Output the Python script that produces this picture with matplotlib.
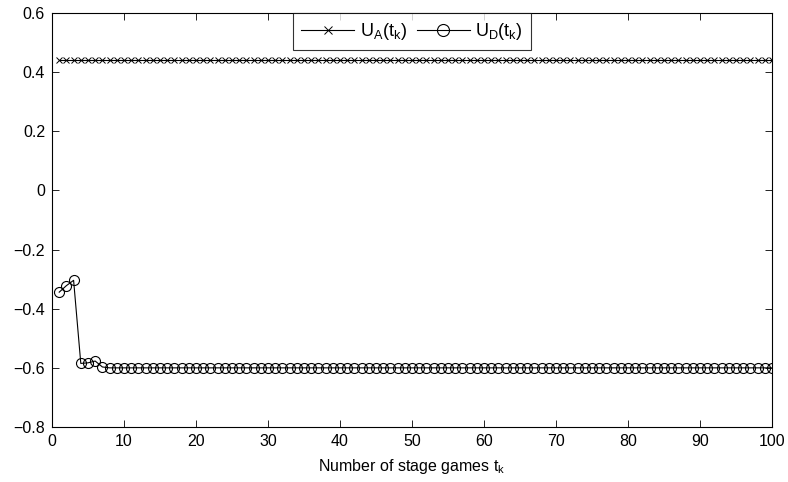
"""Stage-game utilities for attacker and defender."""

import matplotlib

matplotlib.use("Agg")

import matplotlib.pyplot as plt
import numpy as np

stages = np.arange(1, 101)
u_attacker = [0.442] * 100
u_defender_head = [-0.344, -0.322, -0.304, -0.585, -0.583, -0.577, -0.597]
u_defender = u_defender_head + [-0.6] * (100 - len(u_defender_head))

x_ticks = [0, 10, 20, 30, 40, 50, 60, 70, 80, 90, 100]
y_ticks = [0.6, 0.4, 0.2, 0, -0.2, -0.4, -0.6, -0.8]


def main() -> None:
    plt.rcParams["font.family"] = ["Liberation Sans", "DejaVu Sans"]
    plt.rcParams["mathtext.default"] = "regular"

    fig = plt.figure(figsize=(7.88, 4.82), dpi=100)
    ax = fig.add_axes([52 / 788, 1 - 427 / 482, 720 / 788, 414 / 482])

    ax.plot(stages, u_attacker, color="black", lw=0.8, marker="x",
            ms=5, mew=0.7, label=r"U$_A$(t$_k$)")
    ax.plot(stages, u_defender, color="black", lw=0.8, marker="o",
            ms=7.2, mfc="none", mew=0.8, label=r"U$_D$(t$_k$)")

    ax.set_xlim(0, 100)
    ax.set_ylim(-0.8, 0.6)
    ax.set_xticks(x_ticks)
    ax.set_yticks(y_ticks)
    ax.set_yticklabels(["0.6", "0.4", "0.2", "0", "\u22120.2", "\u22120.4",
                        "\u22120.6", "\u22120.8"])
    ax.tick_params(direction="in", top=True, right=True, labelsize=11.5,
                   length=5, width=0.6)
    ax.tick_params(axis="x", pad=5)
    ax.tick_params(axis="y", pad=5)
    for s in ax.spines.values():
        s.set_linewidth(0.8)
    ax.set_xlabel(r"Number of stage games t$_k$", fontsize=11.5)
    ax.xaxis.set_label_coords(0.5, -0.072, transform=ax.transAxes)
    ax.xaxis.label.set_va("top")

    leg = ax.legend(loc="upper center", bbox_to_anchor=(0.5, 1.0), ncol=2,
                    fontsize=13, frameon=True, fancybox=False,
                    handlelength=2.95, columnspacing=0.55, handletextpad=0.3,
                    borderaxespad=0, borderpad=0.45, markerscale=1.2)
    leg.get_frame().set_edgecolor("black")
    leg.get_frame().set_linewidth(0.8)

    fig.savefig("out.png", dpi=100)
    plt.close(fig)


if __name__ == "__main__":
    main()
